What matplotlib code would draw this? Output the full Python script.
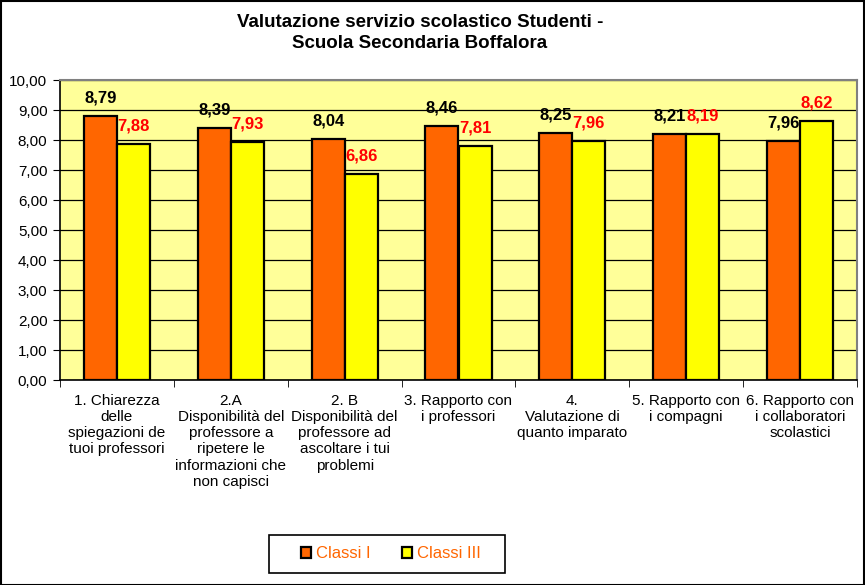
import matplotlib
matplotlib.use("Agg")
import matplotlib.pyplot as plt
import numpy as np
from matplotlib.patches import Rectangle

plt.rcParams['font.family'] = ['Liberation Sans', 'DejaVu Sans']

categories = [
    "1. Chiarezza\ndelle\nspiegazioni de\ntuoi professori",
    "2.A\nDisponibilità del\nprofessore a\nripetere le\ninformazioni che\nnon capisci",
    "2. B\nDisponibilità del\nprofessore ad\nascoltare i tui\nproblemi",
    "3. Rapporto con\ni professori",
    "4.\nValutazione di\nquanto imparato",
    "5. Rapporto con\ni compagni",
    "6. Rapporto con\ni collaboratori\nscolastici",
]
classi_I = [8.79, 8.39, 8.04, 8.46, 8.25, 8.21, 7.96]
classi_III = [7.88, 7.93, 6.86, 7.81, 7.96, 8.19, 8.62]
series_names = ["Classi I", "Classi III"]
yticks = [0, 1, 2, 3, 4, 5, 6, 7, 8, 9, 10]

W, H = 865, 585
fig = plt.figure(figsize=(W/100, H/100), dpi=100)
fig.patch.set_facecolor('white')
ax = fig.add_axes([60/W, 1-380/H, (857-60)/W, 300/H])
ax.set_facecolor('#FFFF99')

x = np.arange(len(categories))
bw = 0.29
ax.bar(x - bw/2, classi_I, bw, color='#FF6600', edgecolor='black', linewidth=1.6, zorder=3, label=series_names[0])
ax.bar(x + bw/2, classi_III, bw, color='#FFFF00', edgecolor='black', linewidth=1.6, zorder=3, label=series_names[1])

for xi, v in zip(x, classi_I):
    ax.text(xi - bw/2, v + 0.6, f"{v:.2f}".replace('.', ','), ha='center', va='center',
            fontsize=12, fontweight='bold', color='black', zorder=4)
for xi, v in zip(x, classi_III):
    ax.text(xi + bw/2, v + 0.6, f"{v:.2f}".replace('.', ','), ha='center', va='center',
            fontsize=12, fontweight='bold', color='#FF0000', zorder=4)

ax.set_ylim(0, 10)
ax.set_xlim(-0.5, len(categories) - 0.5)
ax.set_yticks(yticks)
ax.set_yticklabels([f"{t:.2f}".replace('.', ',') for t in yticks], fontsize=11)
ax.yaxis.grid(True, color='black', linewidth=0.9, zorder=0)
ax.set_axisbelow(True)

ax.set_xticks(x)
ax.set_xticklabels(categories, fontsize=11, linespacing=1.2, va='top')
ax.tick_params(axis='x', which='major', length=0, pad=10)
ax.set_xticks(np.arange(-0.5, len(categories), 1), minor=True)
ax.tick_params(axis='x', which='minor', length=5, direction='out', color='black')
ax.tick_params(axis='y', length=5, direction='out', pad=4)

for s in ['left', 'bottom']:
    ax.spines[s].set_color('black')
    ax.spines[s].set_linewidth(1.2)
for s in ['top', 'right']:
    ax.spines[s].set_color('#808080')
    ax.spines[s].set_linewidth(1.5)

fig.text(420/W, 1-33/H, "Valutazione servizio scolastico Studenti -\nScuola Secondaria Boffalora",
         ha='center', va='center', fontsize=13.5, fontweight='bold', linespacing=1.3)

leg = fig.legend(loc='center', bbox_to_anchor=(391/W, 1-554/H), ncol=2, frameon=False,
                 fontsize=12, handlelength=0.6, handleheight=0.6, handletextpad=0.3,
                 columnspacing=1.9, borderpad=0.5)
for t in leg.get_texts():
    t.set_color('#FF6600')

fig.add_artist(Rectangle((269/W, 1-573/H), (505-269)/W, 38/H, transform=fig.transFigure,
                         fill=False, edgecolor='black', linewidth=1.2))

fig.add_artist(Rectangle((0.5/W, 0.5/H), 1-1.5/W, 1-1.5/H, transform=fig.transFigure,
                         fill=False, edgecolor='black', linewidth=1.5))

fig.savefig('out.png', dpi=100)
